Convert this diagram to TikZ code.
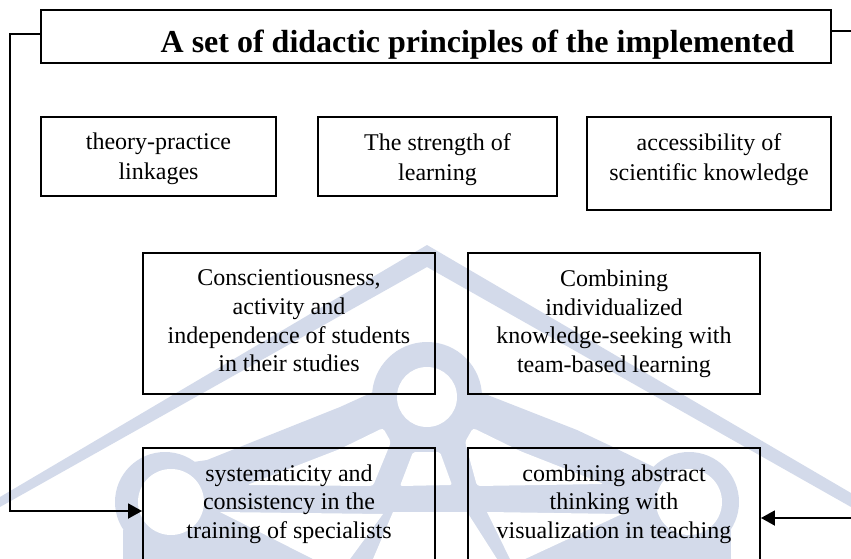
\documentclass[tikz,border=0pt]{standalone}
\usepackage{fontspec}
\setmainfont{Liberation Serif}
\usetikzlibrary{arrows.meta}
\definecolor{wm}{HTML}{D3DAEA}
\tikzset{
  box/.style={draw=black,line width=1.9pt,fill=none,inner sep=0pt,anchor=center},
  txt/.style={align=center,inner sep=0pt,anchor=north,font=\fontsize{24}{28.6}\selectfont},
  conn/.style={draw=black,line width=1.9pt},
  arr/.style={conn,-{Triangle[length=14pt,width=15pt]}}
}
\begin{document}
\begin{tikzpicture}[x=1pt,y=-1pt]
\useasboundingbox (0,0) rectangle (851,559);
% watermark: roof
\fill[wm] (427,245) -- (0,497) -- (0,507) -- (427,267) -- (851,507) -- (851,493) -- cycle;
% watermark: compass hull
\fill[wm] (373,392) -- (340,407) -- (207,460) -- (193,462) -- (123,559) -- (731,559) -- (660,470) -- (613,447) -- (577,430) -- (480,392) -- cycle;
\fill[wm] (427,397) circle (55);
\fill[wm] (165,502) circle (50);
\fill[wm] (689,502) circle (50);
\fill[wm] (123,559) rectangle (200,530);
\fill[wm] (660,530) rectangle (731,559);
% watermark: openings
\fill[white] (427,397) circle (30);
\fill[white] (171,502) circle (33);
\fill[white] (689,502) circle (33);
\fill[white,rounded corners=3pt] (383,428) -- (391,442) -- (373,486) -- (247,485) -- (340,449) -- cycle;
\fill[white,rounded corners=3pt] (473,428) -- (465,442) -- (477,486) -- (604,484) -- (520,451) -- cycle;
\fill[white,rounded corners=2pt] (413,452) -- (440,452) -- (452,485) -- (400,486) -- cycle;
\fill[white] (220,512) -- (383,514) -- (350,559) -- (313,559) -- cycle;
\fill[white] (393,512) -- (467,512) -- (497,559) -- (373,559) -- cycle;
\fill[white] (487,512) -- (622,514) -- (525,559) -- (510,559) -- cycle;
% boxes
\node[box,minimum width=790pt,minimum height=53pt] (title) at (436,36.5) {};
\node[box,minimum width=235pt,minimum height=79pt] (a) at (158.5,156.5) {};
\node[box,minimum width=239pt,minimum height=79pt] (b) at (437.5,156.5) {};
\node[box,minimum width=244pt,minimum height=93pt] (c) at (709,163.5) {};
\node[box,minimum width=292pt,minimum height=141pt] (d) at (289,323.5) {};
\node[box,minimum width=292pt,minimum height=141pt] (e) at (614,323.5) {};
\node[box,minimum width=292pt,minimum height=141pt] (f) at (289,518.5) {};
\node[box,minimum width=292pt,minimum height=141pt] (g) at (614,518.5) {};
% texts
\node[txt,font=\bfseries\fontsize{32}{36}\selectfont] (ttitle) at ([xshift=41.5pt,yshift=-21.2pt]title.north) {A set of didactic principles of the implemented};
\node[txt,font=\fontsize{24}{30}\selectfont] (ta) at ([yshift=-17pt]a.north) {theory-practice\\linkages};
\node[txt,font=\fontsize{24}{30}\selectfont] (tb) at ([yshift=-17pt]b.north) {The strength of\\learning};
\node[txt,font=\fontsize{24}{30}\selectfont] (tc) at ([yshift=-17pt]c.north) {accessibility of\\scientific knowledge};
\node[txt] (td) at ([yshift=-17.8pt]d.north) {Conscientiousness,\\activity and\\independence of students\\in their studies};
\node[txt] (te) at ([yshift=-17.8pt]e.north) {Combining\\individualized\\knowledge-seeking with\\team-based learning};
\node[txt] (tf) at ([yshift=-17.4pt]f.north) {systematicity and\\consistency in the\\training of specialists};
\node[txt] (tg) at ([yshift=-17.4pt]g.north) {combining abstract\\thinking with\\visualization in teaching};
% connectors
\coordinate (lt) at (10,34);
\coordinate (lb) at (10,511);
\coordinate (rt) at (851,31);
\coordinate (rb) at (851,518);
\draw[arr] (title.west |- lt) -- (lt) -- (lb) -- (f.west |- lb);
\draw[conn] (title.east |- rt) -- (rt);
\draw[arr] (rb) -- (g.east |- rb);
\end{tikzpicture}
\end{document}
